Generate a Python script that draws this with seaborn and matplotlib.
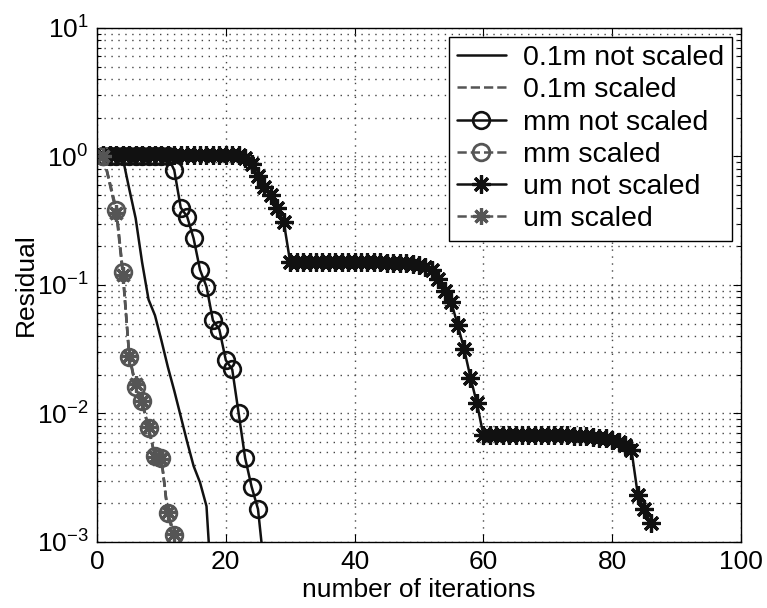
#============ residual convergence, scaled vs not scaled ============

import numpy as np
import pandas as pd
import seaborn as sns
import matplotlib.pyplot as plt
from matplotlib.ticker import LogLocator, NullFormatter, FixedLocator

# ---------- data ----------

# 0.1m not scaled (solid black, no marker)
it_01m = [1, 2, 3, 4, 5, 6, 7, 8, 9, 10, 11, 12, 13, 14, 15, 16, 17, 18]
res_01m = [1.0, 1.0, 1.0, 0.97, 0.56, 0.33, 0.15, 0.077, 0.058, 0.037, 0.023,
           0.015, 0.0095, 0.006, 0.0039, 0.0029, 0.0019, 0.0003]

# scaled runs (all three almost on top of each other)
it_scaled = [1, 3, 4, 5, 6, 7, 8, 9, 10, 11, 12]
res_01m_s = [1.0, 0.39, 0.13, 0.029, 0.016, 0.012, 0.0076, 0.0047, 0.0045,
             0.0016, 0.0011]
res_mm_s = [1.0, 0.38, 0.127, 0.0277, 0.016, 0.0124, 0.0077, 0.0047, 0.0045,
            0.00167, 0.00113]
res_um_s = [1.0, 0.36, 0.12, 0.028, 0.017, 0.0125, 0.0078, 0.0046, 0.0044,
            0.0017, 0.00115]

# mm not scaled (solid black, circles)
it_mm = [1, 2, 3, 4, 5, 6, 7, 8, 9, 10, 11, 12, 13, 14, 15, 16, 17, 18, 19,
         20, 21, 22, 23, 24, 25, 26]
res_mm = [1.0, 1.0, 1.0, 1.0, 1.0, 1.0, 1.0, 1.0, 1.0, 1.0, 1.0, 0.78, 0.40,
          0.34, 0.23, 0.131, 0.097, 0.053, 0.045, 0.026, 0.022, 0.010, 0.0045,
          0.0027, 0.0018, 0.0006]

# um not scaled (solid black, asterisks)
it_um = list(range(1, 87))
res_um = [1.03, 1.03, 1.03, 1.03, 1.03, 1.03, 1.03, 1.03, 1.03, 1.03,
          1.03, 1.03, 1.03, 1.03, 1.03, 1.03, 1.03, 1.03, 1.03, 1.03,
          1.03, 1.02, 0.98, 0.88, 0.70, 0.58, 0.50, 0.40, 0.31, 0.150,
          0.150, 0.150, 0.150, 0.150, 0.150, 0.150, 0.150, 0.150, 0.150, 0.150,
          0.150, 0.150, 0.150, 0.150, 0.149, 0.149, 0.148, 0.148, 0.146, 0.143,
          0.139, 0.130, 0.112, 0.090, 0.074, 0.049, 0.032, 0.019, 0.012, 0.0068,
          0.0068, 0.0068, 0.0068, 0.0068, 0.0068, 0.0068, 0.0068, 0.0068, 0.0068, 0.0068,
          0.0068, 0.0068, 0.0068, 0.0067, 0.0067, 0.0067, 0.0066, 0.0065, 0.0064, 0.0062,
          0.0060, 0.0057, 0.0052, 0.0023, 0.0018, 0.0014]

x_ticks = [0, 20, 40, 60, 80, 100]

# ---------- plot ----------

sns.set_style("ticks")
plt.rcParams['font.family'] = ['Liberation Sans', 'DejaVu Sans']
plt.rcParams['text.color'] = 'black'
plt.rcParams['axes.labelcolor'] = 'black'
plt.rcParams['xtick.color'] = 'black'
plt.rcParams['ytick.color'] = 'black'

fig, ax = plt.subplots(figsize=(7.67, 6.08), dpi=100)
fig.subplots_adjust(left=0.1265, right=0.966, top=0.954, bottom=0.1086)

black = '#111111'
gray = '#555555'
star = (8, 2, 0)

sns.lineplot(x=it_01m, y=res_01m, ax=ax, color=black, linewidth=1.8,
             label='0.1m not scaled')
sns.lineplot(x=it_scaled, y=res_01m_s, ax=ax, color=gray, linewidth=1.8,
             linestyle='--', label='0.1m scaled')
sns.lineplot(x=it_mm, y=res_mm, ax=ax, color=black, linewidth=1.8,
             marker='o', markersize=12, markerfacecolor='none',
             markeredgecolor=black, markeredgewidth=1.9, label='mm not scaled')
sns.lineplot(x=it_scaled, y=res_mm_s, ax=ax, color=gray, linewidth=1.8,
             linestyle='--', marker='o', markersize=12, markerfacecolor='none',
             markeredgecolor=gray, markeredgewidth=2.0, label='mm scaled')
sns.lineplot(x=it_um, y=res_um, ax=ax, color=black, linewidth=1.8,
             marker=star, markersize=13, markeredgecolor=black,
             markeredgewidth=2.3, label='um not scaled')
sns.lineplot(x=it_scaled, y=res_um_s, ax=ax, color=gray, linewidth=1.8,
             linestyle='--', marker=star, markersize=12, markeredgecolor=gray,
             markeredgewidth=2.3, label='um scaled')

ax.set_yscale('log')
ax.set_xlim(0, 100)
ax.set_ylim(1e-3, 1e1)
ax.xaxis.set_major_locator(FixedLocator(x_ticks))
ax.yaxis.set_major_locator(LogLocator(base=10, numticks=10))
ax.yaxis.set_minor_locator(LogLocator(base=10, subs=np.arange(2, 10), numticks=20))
ax.yaxis.set_minor_formatter(NullFormatter())

dots = (0, (1, 4))
ax.grid(True, which='major', axis='both', linestyle=dots, color='#444444', linewidth=1.0)
ax.grid(True, which='minor', axis='y', linestyle=dots, color='#444444', linewidth=1.0)

ax.tick_params(which='both', direction='in', top=True, right=True,
               labelsize=19, width=0.8, color='black', labelcolor='black')
ax.tick_params(which='major', length=6, pad=6)
ax.tick_params(which='minor', length=3)
for s in ax.spines.values():
    s.set_color('black')
    s.set_linewidth(1.0)

ax.set_xlabel('number of iterations', fontsize=19, labelpad=3)
ax.set_ylabel('Residual', fontsize=19, labelpad=-1)

leg = ax.legend(loc='upper right', fontsize=20.5, frameon=True, fancybox=False,
                edgecolor='black', framealpha=1, borderaxespad=0.3,
                handlelength=1.7, labelspacing=0.22, borderpad=0.3,
                handletextpad=0.6)
leg.get_frame().set_linewidth(1.0)

plt.savefig('out.png', dpi=100)
